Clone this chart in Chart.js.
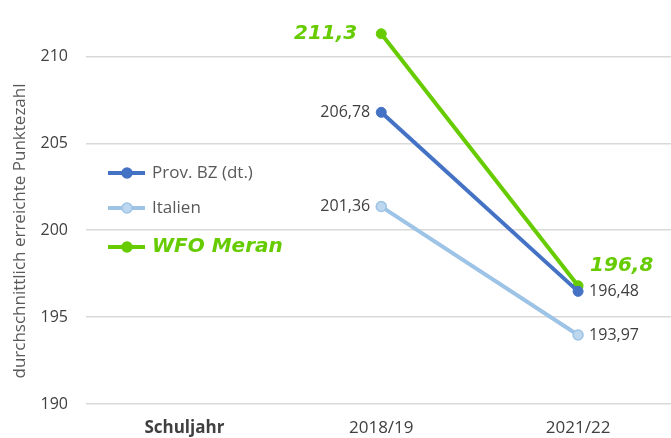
<!DOCTYPE html>
<html>
<head>
<meta charset="utf-8">
<script src="https://cdn.jsdelivr.net/npm/chart.js@4"></script>
<style>
    html, body { margin: 0; padding: 0; overflow: hidden; background: #fff; }
    canvas { display: block; }
</style>
</head>
<body>
<canvas id="myChart" width="683" height="438"></canvas>
<script>
var categories = ["Schuljahr", "2018/19", "2021/22"];
var provBZ = [null, 206.78, 196.48];
var italien = [null, 201.36, 193.97];
var wfoMeran = [null, 211.3, 196.8];
var yTicks = [190, 195, 200, 205, 210];
var seriesNames = ["Prov. BZ (dt.)", "Italien", "WFO Meran"];
var yTitle = "durchschnittlich erreichte Punktezahl";

var FONT = "'Open Sans', sans-serif";
var HAND = "bold italic 20px 'DejaVu Sans', sans-serif";

function fmt(v, dec) {
    return v.toFixed(dec).replace('.', ',');
}

// data labels, legend inside plot and y title
var extras = {
    id: 'extras',
    afterDatasetsDraw: function (chart) {
        var ctx = chart.ctx;
        var area = chart.chartArea;
        ctx.save();
        chart.data.datasets.forEach(function (ds, i) {
            var meta = chart.getDatasetMeta(i);
            meta.data.forEach(function (pt, j) {
                var v = ds.data[j];
                if (v === null) return;
                var last = j === ds.data.length - 1;
                if (i === 2) {
                    ctx.font = HAND;
                    ctx.fillStyle = '#66cc00';
                    ctx.textBaseline = 'middle';
                    if (last) {
                        ctx.textAlign = 'left';
                        ctx.fillText(fmt(v, 1), pt.x + 12, pt.y - 20);
                    } else {
                        ctx.textAlign = 'right';
                        ctx.fillText(fmt(v, 1), pt.x - 24, pt.y);
                    }
                } else {
                    ctx.font = "16px " + FONT;
                    ctx.fillStyle = '#404040';
                    ctx.textBaseline = 'middle';
                    ctx.textAlign = last ? 'left' : 'right';
                    ctx.fillText(fmt(v, 2), last ? pt.x + 11 : pt.x - 11, pt.y);
                }
            });
        });

        // legend
        var rows = [173, 208, 247];
        chart.data.datasets.forEach(function (ds, i) {
            var y = rows[i];
            var x0 = area.left + 22;
            ctx.strokeStyle = ds.borderColor;
            ctx.lineWidth = 4;
            ctx.beginPath();
            ctx.moveTo(x0, y);
            ctx.lineTo(x0 + 37, y);
            ctx.stroke();
            ctx.beginPath();
            ctx.arc(x0 + 19, y, 5, 0, Math.PI * 2);
            ctx.fillStyle = ds.pointBackgroundColor;
            ctx.fill();
            ctx.lineWidth = 1.5;
            ctx.stroke();
            ctx.textAlign = 'left';
            ctx.textBaseline = 'middle';
            if (i === 2) {
                ctx.font = HAND;
                ctx.fillStyle = '#66cc00';
            } else {
                ctx.font = "17px " + FONT;
                ctx.fillStyle = '#595959';
            }
            ctx.fillText(seriesNames[i], x0 + 44, y);
        });

        // y axis title
        ctx.translate(20, 231);
        ctx.rotate(-Math.PI / 2);
        ctx.font = "17px " + FONT;
        ctx.fillStyle = '#595959';
        ctx.textAlign = 'center';
        ctx.textBaseline = 'middle';
        ctx.fillText(yTitle, 0, 0);
        ctx.restore();
    }
};

var ctx = document.getElementById("myChart").getContext("2d");

var data = {
    labels: categories,
    datasets: [
        {
            label: seriesNames[0],
            data: provBZ,
            borderColor: '#4472c4',
            backgroundColor: '#4472c4',
            pointBackgroundColor: '#4472c4',
            borderWidth: 4,
            pointRadius: 5,
            pointBorderWidth: 1
        }, {
            label: seriesNames[1],
            data: italien,
            borderColor: '#9dc3e6',
            backgroundColor: '#bdd7ee',
            pointBackgroundColor: '#bdd7ee',
            borderWidth: 4,
            pointRadius: 5,
            pointBorderWidth: 1.5
        }, {
            label: seriesNames[2],
            data: wfoMeran,
            borderColor: '#66cc00',
            backgroundColor: '#66cc00',
            pointBackgroundColor: '#66cc00',
            borderWidth: 4,
            pointRadius: 5,
            pointBorderWidth: 1
        }
    ]
};

var myChart = new Chart(ctx, {
    type: 'line',
    data: data,
    plugins: [extras],
    options: {
        responsive: false,
        animation: false,
        layout: {padding: 0},
        plugins: {
            legend: {display: false},
            tooltip: {enabled: false}
        },
        scales: {
            x: {
                offset: true,
                afterFit: function (scale) {
                    scale.height = 34;
                    scale.paddingLeft = 0;
                    scale.paddingRight = 0;
                },
                grid: {display: false, drawTicks: false},
                border: {display: false},
                ticks: {
                    padding: 14,
                    color: '#404040',
                    font: function (c) {
                        return {family: FONT, size: 17, weight: c.index === 0 ? 'bold' : 'normal'};
                    }
                }
            },
            y: {
                min: 190,
                max: 212.87,
                afterBuildTicks: function (scale) {
                    scale.ticks = yTicks.map(function (v) { return {value: v}; });
                },
                afterFit: function (scale) {
                    scale.width = 86;
                    scale.paddingTop = 0;
                    scale.paddingBottom = 0;
                },
                grid: {color: '#d9d9d9', lineWidth: 1.5, drawTicks: false},
                border: {display: false},
                ticks: {
                    padding: 18,
                    color: '#404040',
                    font: {family: FONT, size: 16}
                }
            }
        }
    }
});
</script>
</body>
</html>
